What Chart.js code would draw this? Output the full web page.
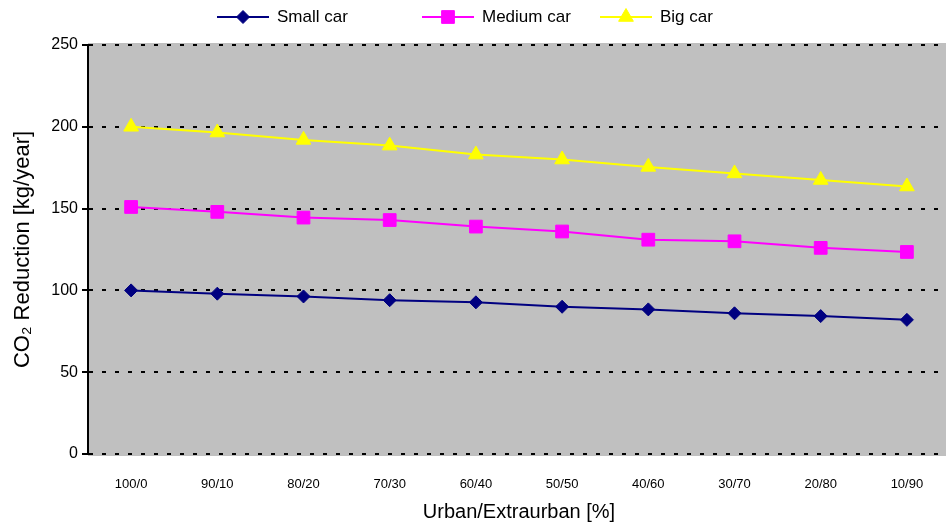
<!DOCTYPE html>
<html>
<head>
<meta charset="utf-8">
<title>CO2 Reduction</title>
<script src="https://cdn.jsdelivr.net/npm/chart.js@4.4.1/dist/chart.umd.min.js"></script>
<style>
    html, body { margin: 0; padding: 0; background: #ffffff; overflow: hidden; }
    canvas { display: block; }
</style>
</head>
<body>
<!-- el área de trazado del original sigue unos píxeles más allá del borde derecho -->
<canvas id="co2-chart" width="950" height="527"></canvas>
<script>
// Datos
const categories = ["100/0", "90/10", "80/20", "70/30", "60/40", "50/50", "40/60", "30/70", "20/80", "10/90"];
const smallCar = [100, 98, 96.3, 94, 92.7, 90, 88.4, 86, 84.3, 82];
const mediumCar = [151, 148, 144.5, 143, 139, 136, 131, 130, 126, 123.5];
const bigCar = [200, 196.5, 192, 188.5, 183, 180, 175.5, 171.5, 167.5, 163.5];
const yTicks = [0, 50, 100, 150, 200, 250];

const FONT = "'Liberation Sans', Arial, sans-serif";

// Fondo gris del área de trazado
const plotBackground = {
    id: "plotBackground",
    beforeDraw(chart) {
        const { ctx, chartArea } = chart;
        ctx.save();
        ctx.fillStyle = "#c0c0c0";
        ctx.fillRect(chartArea.left, chartArea.top - 2, chartArea.right - chartArea.left, chartArea.bottom - chartArea.top + 4);
        ctx.restore();
    }
};

// Leyenda dibujada a mano: línea con marcador, como en Excel
const lineLegend = {
    id: "lineLegend",
    afterDraw(chart) {
        const ctx = chart.ctx;
        const starts = [217, 422, 600];
        const y = 17;
        ctx.save();
        chart.data.datasets.forEach((ds, i) => {
            const x = starts[i];
            ctx.strokeStyle = ds.borderColor;
            ctx.lineWidth = 2;
            ctx.beginPath();
            ctx.moveTo(x, y);
            ctx.lineTo(x + 52, y);
            ctx.stroke();
            ctx.fillStyle = ds.pointBackgroundColor;
            ctx.lineWidth = 1;
            Chart.helpers.drawPoint(ctx, {
                pointStyle: ds.pointStyle,
                radius: ds.pointRadius,
                borderWidth: 1,
                rotation: 0
            }, x + 26, y);
            ctx.fillStyle = "#000000";
            ctx.font = "17px " + FONT;
            ctx.textBaseline = "middle";
            ctx.textAlign = "left";
            ctx.fillText(ds.label, x + 60, y);
        });
        ctx.restore();
    }
};

function series(label, values, color, style, radius) {
    return {
        label: label,
        data: values,
        borderColor: color,
        backgroundColor: color,
        pointBackgroundColor: color,
        pointBorderColor: color,
        pointStyle: style,
        pointRadius: radius,
        pointBorderWidth: 1,
        borderWidth: 2,
        tension: 0
    };
}

const ctx = document.getElementById("co2-chart").getContext("2d");

const chart = new Chart(ctx, {
    type: "line",
    data: {
        labels: categories,
        datasets: [
            series("Small car", smallCar, "#000080", "rectRot", 6.5),
            series("Medium car", mediumCar, "#ff00ff", "rect", 9),
            series("Big car", bigCar, "#ffff00", "triangle", 8.5)
        ]
    },
    options: {
        responsive: false,
        animation: false,
        layout: {
            autoPadding: false,
            padding: { top: 45, right: 0, bottom: 0, left: 0 }
        },
        plugins: {
            legend: { display: false },
            tooltip: { enabled: false }
        },
        scales: {
            x: {
                offset: true,
                afterFit(scale) {
                    scale.height = 73;
                    scale.paddingLeft = 0;
                    scale.paddingRight = 0;
                },
                grid: { display: false, drawTicks: false },
                border: { display: false },
                ticks: {
                    color: "#000000",
                    padding: 23,
                    maxRotation: 0,
                    autoSkip: false,
                    font: { family: FONT, size: 13 }
                },
                title: {
                    display: true,
                    text: "Urban/Extraurban [%]",
                    color: "#000000",
                    padding: { top: 7, bottom: 3 },
                    font: { family: FONT, size: 20 }
                }
            },
            y: {
                min: 0,
                max: 250,
                afterBuildTicks(axis) {
                    axis.ticks = yTicks.map(v => ({ value: v }));
                },
                afterFit(scale) {
                    scale.width = 88;
                },
                grid: {
                    color: "#000000",
                    lineWidth: 2,
                    drawTicks: true,
                    tickLength: 6,
                    tickColor: "#000000",
                    tickWidth: 2
                },
                border: {
                    display: true,
                    color: "#000000",
                    width: 2,
                    dash: [4, 9]
                },
                ticks: {
                    color: "#000000",
                    padding: 4,
                    font: { family: FONT, size: 16 }
                },
                title: {
                    display: true,
                    text: "CO₂ Reduction [kg/year]",
                    color: "#000000",
                    padding: { top: 10, bottom: 11 },
                    font: { family: FONT, size: 22 }
                }
            }
        }
    },
    plugins: [plotBackground, lineLegend]
});
</script>
</body>
</html>
